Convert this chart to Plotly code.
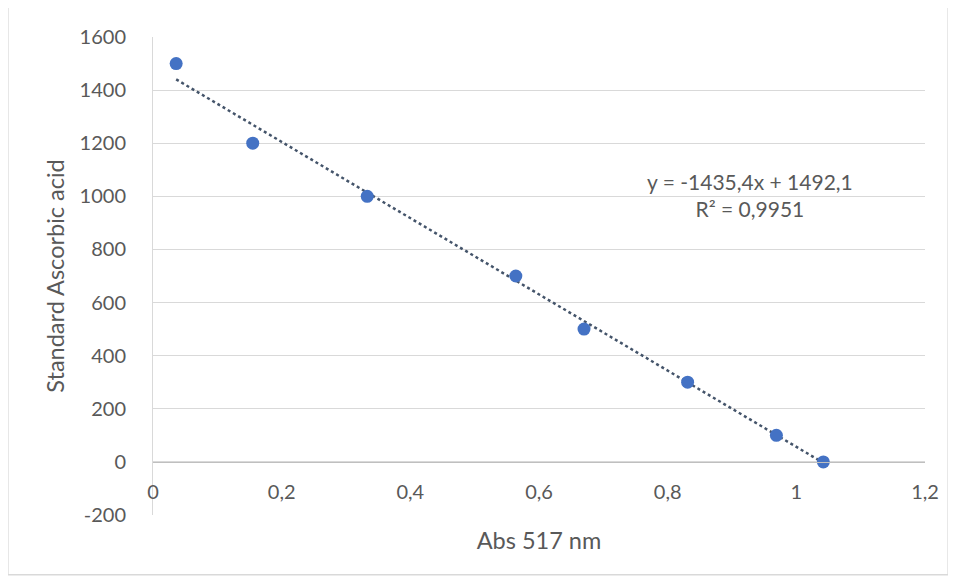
import plotly.graph_objects as go
import numpy as np

# Data
abs_517 = [0.036, 0.155, 0.333, 0.564, 0.670, 0.831, 0.969, 1.042]
ascorbic = [1500, 1200, 1000, 700, 500, 300, 100, 0]
slope = -1435.4
intercept = 1492.1
eq_text = "y = -1435,4x + 1492,1<br>R² = 0,9951"
x_ticks = [0, 0.2, 0.4, 0.6, 0.8, 1.0, 1.2]
x_tick_labels = ["0", "0,2", "0,4", "0,6", "0,8", "1", "1,2"]
y_ticks = [-200, 0, 200, 400, 600, 800, 1000, 1200, 1400, 1600]
y_tick_labels = ["-200", "0", "200", "400", "600", "800", "1000", "1200", "1400", "1600"]

font_family = "Lato, Open Sans, sans-serif"
txt_color = "#595959"

x_fit = np.array([min(abs_517), max(abs_517)])
y_fit = slope * x_fit + intercept

fig = go.Figure()
fig.add_trace(go.Scatter(
    x=x_fit, y=y_fit, mode="lines",
    line=dict(color="#44546A", width=2.5, dash="dot"),
    showlegend=False, hoverinfo="skip"))
fig.add_trace(go.Scatter(
    x=abs_517, y=ascorbic, mode="markers",
    marker=dict(color="#4472C4", size=13, line=dict(width=0)),
    showlegend=False))

fig.add_annotation(
    x=0.928, y=1005, xref="x", yref="y", text=eq_text, showarrow=False,
    font=dict(family=font_family, size=21, color=txt_color), align="center")

fig.add_shape(type="rect", xref="paper", yref="paper",
              x0=-0.188, x1=1.03, y0=-0.125, y1=1.062,
              line=dict(color="#d9d9d9", width=1.5), layer="below")

fig.update_layout(
    width=956, height=581,
    margin=dict(l=145, r=39, t=29, b=74),
    paper_bgcolor="white", plot_bgcolor="white",
    font=dict(family=font_family, size=20, color=txt_color),
    xaxis=dict(
        range=[0, 1.2], tickvals=x_ticks, ticktext=x_tick_labels,
        showgrid=False, zeroline=False,
        anchor="free", position=200/1800,
        showline=True, linecolor="#bfbfbf", linewidth=1,
        ticks="", ticklabelstandoff=12,
        tickfont=dict(size=20),
        title=dict(text="Abs 517 nm", standoff=30,
                   font=dict(size=23.5, color=txt_color)),
    ),
    yaxis=dict(
        range=[-200, 1600], tickvals=y_ticks, ticktext=y_tick_labels,
        showgrid=True, gridcolor="#d9d9d9", gridwidth=1,
        zeroline=False,
        showline=True, linecolor="#d9d9d9", linewidth=1,
        ticks="", ticklabelstandoff=22,
        tickfont=dict(size=20),
        title=dict(text="Standard Ascorbic acid", standoff=8,
                   font=dict(size=23.5, color=txt_color)),
    ),
)

fig.write_html("out.html")
